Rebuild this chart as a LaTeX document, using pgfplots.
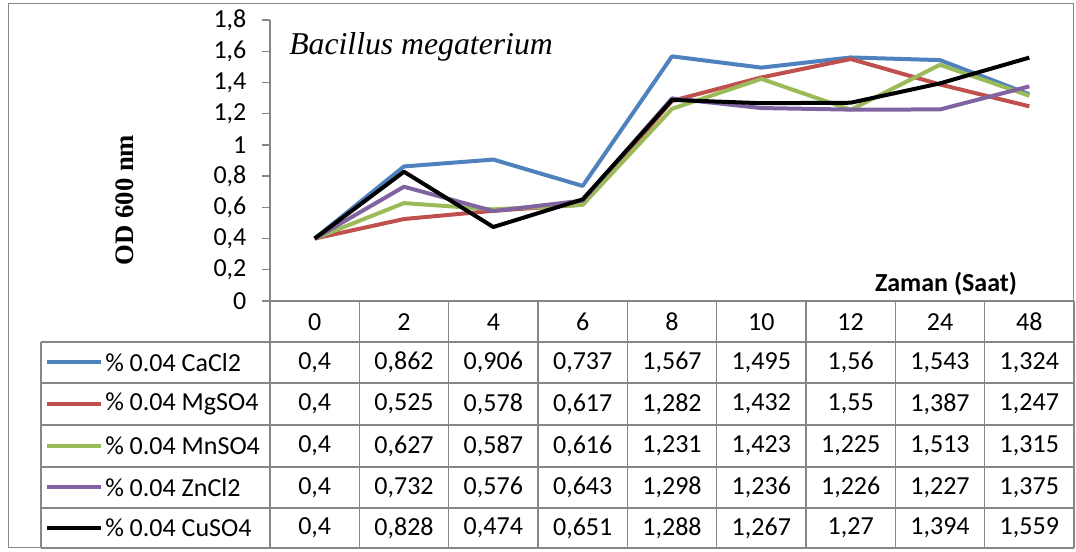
\documentclass[border=0pt]{standalone}
\usepackage{pgfplots}
\pgfplotsset{compat=1.18}
\usepackage{fontspec}
\setmainfont{Carlito}
\newfontfamily\timesfont{Liberation Serif}
\definecolor{cBlue}{HTML}{4F81BD}
\definecolor{cRed}{HTML}{C0504D}
\definecolor{cGreen}{HTML}{9BBB59}
\definecolor{cPurple}{HTML}{8064A2}
\definecolor{gridc}{HTML}{868686}
\begin{document}
\fontsize{19.5}{22}\selectfont
\begin{tikzpicture}
\begin{scope}[x=0.75pt,y=-0.75pt]
\path (0,0) rectangle (1076,552);
\draw[gridc, line width=0.75pt] (8,4) rectangle (1073,548);
\end{scope}
\begin{axis}[at={(202.5pt,-225.75pt)}, anchor=south west,
  scale only axis, width=603pt, height=210.75pt,
  xmin=-0.5, xmax=8.5, ymin=0, ymax=1.8,
  axis x line*=bottom, axis y line*=left,
  xtick=\empty,
  ytick={0,0.2,0.4,0.6,0.8,1,1.2,1.4,1.6,1.8},
  /pgf/number format/assume math mode=true,
  yticklabel style={/pgf/number format/use comma, /pgf/number format/fixed, font=\fontsize{19.5}{22}\selectfont, anchor=east, inner sep=0pt, xshift=-11.5pt},
  tick align=outside, major tick length=6pt,
  axis line style={gridc, line width=1pt}, major tick style={gridc, line width=1pt},
  clip=false,
  every axis plot/.append style={line width=3pt, line join=round, no markers},
]
\addplot[cBlue] coordinates {(0,0.4)(1,0.862)(2,0.906)(3,0.737)(4,1.567)(5,1.495)(6,1.56)(7,1.543)(8,1.324)};
\addplot[cRed] coordinates {(0,0.4)(1,0.525)(2,0.578)(3,0.617)(4,1.282)(5,1.432)(6,1.55)(7,1.387)(8,1.247)};
\addplot[cGreen] coordinates {(0,0.4)(1,0.627)(2,0.587)(3,0.616)(4,1.231)(5,1.423)(6,1.225)(7,1.513)(8,1.315)};
\addplot[cPurple] coordinates {(0,0.4)(1,0.732)(2,0.576)(3,0.643)(4,1.298)(5,1.236)(6,1.226)(7,1.227)(8,1.375)};
\addplot[black] coordinates {(0,0.4)(1,0.828)(2,0.474)(3,0.651)(4,1.288)(5,1.267)(6,1.27)(7,1.394)(8,1.559)};
\end{axis}
\begin{scope}[x=0.75pt,y=-0.75pt]
% table grid
\draw[gridc, line width=1pt] (262,301)--(1074,301);
\foreach \yy in {342,383,425,467,508,548} \draw[gridc, line width=1pt] (41,\yy)--(1074,\yy);
\draw[gridc, line width=1pt] (41,342)--(41,548);
\foreach \i in {0,...,9} \draw[gridc, line width=1pt] ({270+89.333*\i},301)--({270+89.333*\i},548);
% header
\foreach \t [count=\i from 0] in {0,2,4,6,8,10,12,24,48}
  \node at ({314.67+89.333*\i},322) {\t};
% rows
\foreach \t [count=\i from 0] in {{0,4},{0,862},{0,906},{0,737},{1,567},{1,495},{1,56},{1,543},{1,324}}
  \node at ({314.67+89.333*\i},362.5) {\t};
\foreach \t [count=\i from 0] in {{0,4},{0,525},{0,578},{0,617},{1,282},{1,432},{1,55},{1,387},{1,247}}
  \node at ({314.67+89.333*\i},404) {\t};
\foreach \t [count=\i from 0] in {{0,4},{0,627},{0,587},{0,616},{1,231},{1,423},{1,225},{1,513},{1,315}}
  \node at ({314.67+89.333*\i},446) {\t};
\foreach \t [count=\i from 0] in {{0,4},{0,732},{0,576},{0,643},{1,298},{1,236},{1,226},{1,227},{1,375}}
  \node at ({314.67+89.333*\i},487.5) {\t};
\foreach \t [count=\i from 0] in {{0,4},{0,828},{0,474},{0,651},{1,288},{1,267},{1,27},{1,394},{1,559}}
  \node at ({314.67+89.333*\i},528) {\t};
% legend keys
\foreach \c/\n/\yy in {cBlue/CaCl2/362.5, cRed/MgSO4/404, cGreen/MnSO4/446, cPurple/ZnCl2/487.5, black/CuSO4/528}{
  \draw[\c, line width=3pt] (47,\yy)--(101,\yy);
  \node[anchor=west, inner sep=0pt] at (105,\yy) {\% 0.04 \n};
}
% labels
\node[anchor=base west, inner sep=0pt, font=\timesfont\itshape\fontsize{23.8}{26}\selectfont] at (289,55) {Bacillus megaterium};
\node[rotate=90, font=\timesfont\bfseries\fontsize{20}{24}\selectfont] at (125,200) {OD 600 nm};
\node[font=\bfseries] at (946,284) {Zaman (Saat)};
\end{scope}
\end{tikzpicture}
\end{document}
